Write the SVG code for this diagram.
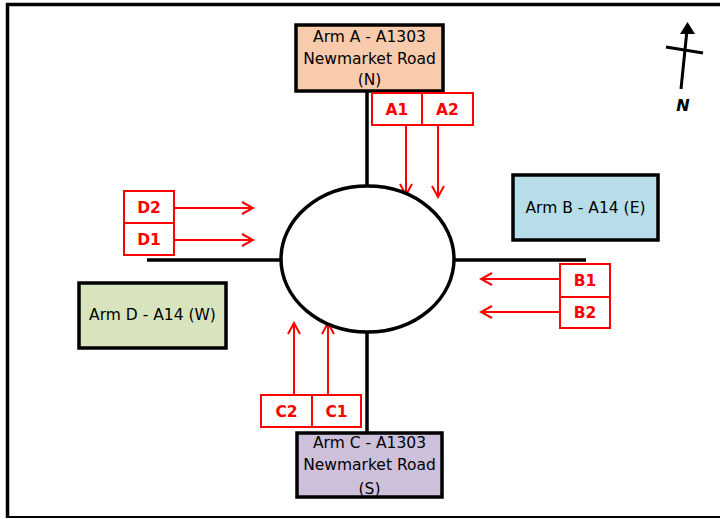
<svg xmlns="http://www.w3.org/2000/svg" width="720" height="519" viewBox="0 0 720 519">
<defs>
<marker id="ah" viewBox="0 0 14 14" refX="12" refY="7" markerWidth="14" markerHeight="14" markerUnits="userSpaceOnUse" orient="auto">
<path d="M1,1 L12,7 L1,13" fill="none" stroke="#ff0000" stroke-width="2"/>
</marker>
</defs>
<style>
.arm{stroke:#000;stroke-width:3.5}
.t{font-family:"DejaVu Sans",Verdana,sans-serif;font-size:15.5px;fill:#000;text-anchor:middle}
.lb{fill:#fff;stroke:#ff0000;stroke-width:2}
.lt{font-family:"DejaVu Sans",Verdana,sans-serif;font-weight:bold;font-size:15.5px;fill:#ff0000;text-anchor:middle}
.ar{stroke:#ff0000;stroke-width:2;fill:none;marker-end:url(#ah)}
.road{stroke:#000;stroke-width:3.5;fill:none}
</style>
<rect width="720" height="519" fill="#fff"/>
<g id="frame" fill="none" stroke="#000">
<line x1="7.5" y1="3" x2="7.5" y2="518" stroke-width="3.5"/>
<line x1="6" y1="4.5" x2="720" y2="4.5" stroke-width="3.5"/>
<line x1="6" y1="517" x2="720" y2="517" stroke-width="2"/>
</g>
<g id="connectors">
<line class="road" x1="367" y1="90" x2="367" y2="186"/>
<line class="road" x1="367" y1="332" x2="367" y2="433"/>
<line class="road" x1="147" y1="260" x2="281" y2="260"/>
<line class="road" x1="454" y1="260" x2="586" y2="260"/>
<line class="ar" x1="406" y1="125" x2="406" y2="195"/>
<line class="ar" x1="438" y1="125" x2="438" y2="197"/>
<line class="ar" x1="174" y1="208" x2="253" y2="208"/>
<line class="ar" x1="174" y1="240" x2="253" y2="240"/>
<line class="ar" x1="560" y1="279" x2="481" y2="279"/>
<line class="ar" x1="560" y1="312" x2="481" y2="312"/>
<line class="ar" x1="294" y1="395" x2="294" y2="323"/>
<line class="ar" x1="328" y1="395" x2="328" y2="323"/>
</g>
<g id="roundabout">
<ellipse cx="367.5" cy="259" rx="86.5" ry="73" fill="#fff" stroke="#000" stroke-width="3.5"/>
</g>
<g id="armA">
<rect x="296" y="25" width="147" height="66" fill="#f8cbad" class="arm"/>
<text class="t" x="369.5" y="42">Arm A - A1303</text>
<text class="t" x="369.5" y="64">Newmarket Road</text>
<text class="t" x="369.5" y="85">(N)</text>
</g>
<g id="armB">
<rect x="513" y="175" width="145" height="65" fill="#b7dde8" class="arm"/>
<text class="t" x="585.5" y="213">Arm B - A14 (E)</text>
</g>
<g id="armC">
<rect x="297" y="433" width="145" height="64" fill="#ccc0da" class="arm"/>
<text class="t" x="369.5" y="448">Arm C - A1303</text>
<text class="t" x="369.5" y="470">Newmarket Road</text>
<text class="t" x="369.5" y="494">(S)</text>
</g>
<g id="armD">
<rect x="79" y="283" width="147" height="65" fill="#d7e4bd" class="arm"/>
<text class="t" x="152.5" y="320">Arm D - A14 (W)</text>
</g>
<g id="A1"><rect class="lb" x="372" y="93" width="50" height="32"/><text class="lt" x="397" y="115">A1</text></g>
<g id="A2"><rect class="lb" x="422" y="93" width="51" height="32"/><text class="lt" x="447.5" y="115">A2</text></g>
<g id="D2"><rect class="lb" x="124" y="191" width="50" height="32"/><text class="lt" x="149" y="213">D2</text></g>
<g id="D1"><rect class="lb" x="124" y="223" width="50" height="32"/><text class="lt" x="149" y="245">D1</text></g>
<g id="B1"><rect class="lb" x="560" y="264" width="50" height="33"/><text class="lt" x="585" y="286">B1</text></g>
<g id="B2"><rect class="lb" x="560" y="297" width="50" height="31"/><text class="lt" x="585" y="318">B2</text></g>
<g id="C2"><rect class="lb" x="261" y="395" width="51" height="32"/><text class="lt" x="286.5" y="417">C2</text></g>
<g id="C1"><rect class="lb" x="312" y="395" width="49" height="32"/><text class="lt" x="336.5" y="417">C1</text></g>
<g id="north">
<line x1="681" y1="89" x2="687" y2="30" stroke="#000" stroke-width="3"/>
<line x1="666" y1="47" x2="703" y2="53" stroke="#000" stroke-width="3"/>
<polygon points="687.5,22 680,34 695,34" fill="#000"/>
<text x="683" y="111" font-family="'DejaVu Sans',Verdana,sans-serif" font-weight="bold" font-style="italic" font-size="16" text-anchor="middle" fill="#000">N</text>
</g>
</svg>
